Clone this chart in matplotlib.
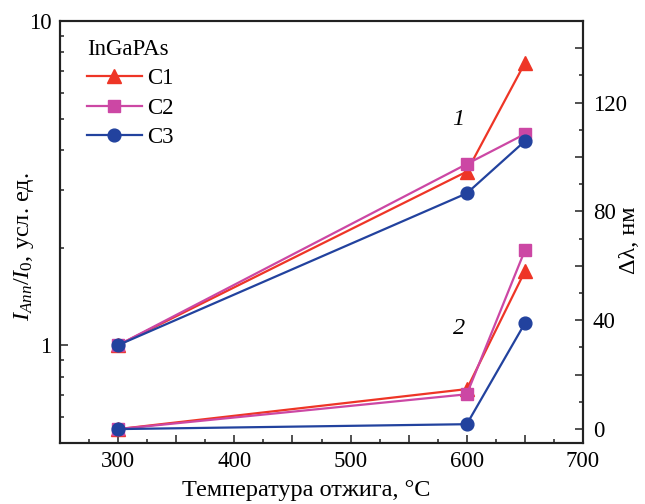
import matplotlib
matplotlib.use("Agg")
import matplotlib.pyplot as plt
from matplotlib.ticker import MultipleLocator, LogLocator, FuncFormatter, NullFormatter

plt.rcParams['font.family'] = ['Liberation Serif', 'DejaVu Serif']
plt.rcParams['mathtext.fontset'] = 'custom'
plt.rcParams['mathtext.rm'] = 'Liberation Serif'
plt.rcParams['mathtext.it'] = 'Liberation Serif:italic'

# Data
temps = [300, 600, 650]
series_names = ["C1", "C2", "C3"]
# group 1: I_Ann/I_0 (left, log)
ratio_c1 = [1.0, 3.43, 7.42]
ratio_c2 = [1.0, 3.62, 4.48]
ratio_c3 = [1.0, 2.94, 4.26]
# group 2: delta lambda, nm (right)
dl_c1 = [0.0, 14.7, 58.0]
dl_c2 = [0.0, 12.8, 65.7]
dl_c3 = [0.0, 1.8, 38.9]

colors = ["#ee3526", "#cc47a4", "#22429e"]
markers = ["^", "s", "o"]
msizes = [10.5, 8.5, 9.2]

fig = plt.figure(figsize=(6.45, 5.04), dpi=100)
ax = fig.add_axes([60/645, 1-442.7/504, 523/645, 421.7/504])
ax2 = ax.twinx()

fs_tick = 16.5
fs_lab = 17.5
ratios = [ratio_c1, ratio_c2, ratio_c3]
dls = [dl_c1, dl_c2, dl_c3]
handles = []
for i in range(3):
    l, = ax.plot(temps, ratios[i], color=colors[i], marker=markers[i], ms=msizes[i],
                 lw=1.6, mec=colors[i], mfc=colors[i], zorder=3+i)
    handles.append(l)
    ax2.plot(temps, dls[i], color=colors[i], marker=markers[i], ms=msizes[i],
             lw=1.6, mec=colors[i], mfc=colors[i], zorder=3+i)

ax.set_xlim(250, 700)
ax.set_yscale('log')
ax.set_ylim(0.5, 10)
ax2.set_ylim(-5, 150)

ax.xaxis.set_major_locator(MultipleLocator(50))
ax.xaxis.set_minor_locator(MultipleLocator(25))
ax.xaxis.set_major_formatter(FuncFormatter(lambda v, p: f"{int(round(v))}" if round(v) % 100 == 0 else ""))
ax.yaxis.set_major_locator(LogLocator(base=10))
ax.yaxis.set_minor_locator(LogLocator(base=10, subs=range(2, 10)))
ax.yaxis.set_major_formatter(FuncFormatter(lambda v, p: f"{v:g}"))
ax.yaxis.set_minor_formatter(NullFormatter())
ax2.yaxis.set_major_locator(MultipleLocator(20))
ax2.yaxis.set_minor_locator(MultipleLocator(10))
ax2.yaxis.set_major_formatter(FuncFormatter(lambda v, p: f"{int(round(v))}" if round(v) % 40 == 0 else ""))

ax.tick_params(axis='both', which='major', direction='in', length=6, width=1.1,
               labelsize=fs_tick, pad=6, top=False, right=False, color='#222222')
ax.tick_params(axis='both', which='minor', direction='in', length=3, width=1.1,
               top=False, right=False, color='#222222')
ax2.tick_params(axis='y', which='major', direction='in', length=6, width=1.1,
                labelsize=fs_tick, pad=7, color='#222222')
ax2.tick_params(axis='y', which='minor', direction='in', length=3, width=1.1, color='#222222')

for a in (ax, ax2):
    for s in a.spines.values():
        s.set_linewidth(1.5)
        s.set_color('#222222')

ax.set_xlabel("Температура отжига, °C", fontsize=fs_lab)
ax.set_ylabel(r"$I_{Ann}/I_0$, усл. ед.", fontsize=fs_lab)
ax2.set_ylabel("Δλ, нм", fontsize=fs_lab)
ax.yaxis.set_label_coords(-0.045, 0.465)
ax2.yaxis.set_label_coords(1.068, 0.48)
ax.xaxis.set_label_coords(0.47, -0.088)

ax.text(593, 4.95, "1", fontsize=fs_lab, style='italic', ha='center', va='center')
ax2.text(593, 37, "2", fontsize=fs_lab, style='italic', ha='center', va='center')

leg = ax2.legend(handles, series_names, title="InGaPAs", loc='upper left',
                 bbox_to_anchor=(0.025, 0.99), frameon=False, fontsize=fs_tick,
                 title_fontsize=fs_tick, handlelength=2.4, numpoints=1,
                 labelspacing=0.36, handletextpad=0.25, borderaxespad=0.2)
leg._legend_box.align = "left"

fig.savefig("out.png", dpi=100)
